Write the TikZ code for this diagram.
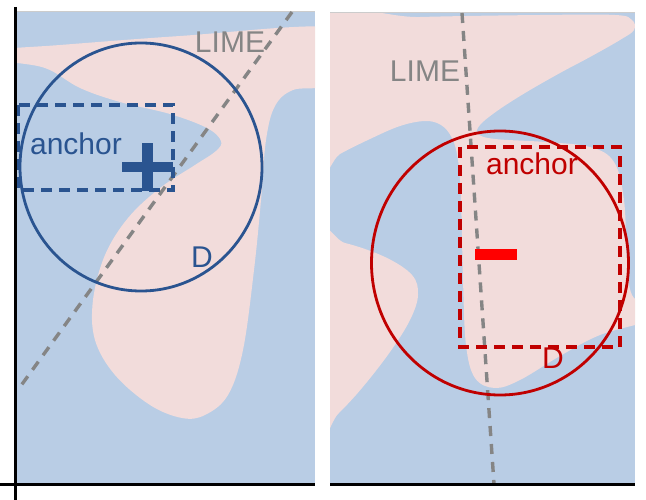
\documentclass[tikz,border=0pt]{standalone}
\usepackage{fontspec}
\setmainfont{Liberation Sans}
\usetikzlibrary{positioning}
\definecolor{bgblue}{HTML}{B9CDE5}
\definecolor{bgpink}{HTML}{F2DCDB}
\definecolor{darkblue}{HTML}{2A5490}
\definecolor{darkred}{HTML}{C00000}
\definecolor{limegray}{HTML}{858585}
\begin{document}
\begin{tikzpicture}[
  x=1pt, y=-1pt,
  axis/.style={line width=3pt, black},
  topline/.style={line width=1pt, black!20},
  region/.style={fill=bgpink, draw=none},
  lime/.style={limegray, line width=3.4pt, dash pattern=on 10pt off 8pt},
  ball/.style={line width=2.8pt},
  anchorbox/.style={line width=3.2pt, dash pattern=on 11pt off 7pt},
  lbl/.style={font=\fontsize{30}{30}\selectfont, anchor=base, inner sep=0pt},
]
\useasboundingbox (0,0) rectangle (646,500);

% left panel: positive example
\begin{scope}
  \clip (17,12) rectangle (315,484);
  \fill[bgblue] (17,12) rectangle (315,484);
  \fill[region] plot[smooth cycle, tension=0.6] coordinates {
    (0,50) (60,45) (180,36) (330,27) (345,55) (325,85) (293,90) (275,106)
    (266,140) (261,200) (254,270) (243,350) (228,395) (205,415) (182,418)
    (150,405) (115,375) (95,340) (93,300) (105,255) (128,218) (160,188)
    (195,165) (216,151) (221,141) (207,128) (170,114) (120,102) (80,88)
    (45,68) (0,60)};
\end{scope}
\draw[topline] (17,12) -- (315,12);
\coordinate (limeLtop) at (292,12);
\coordinate (limeLbot) at (20,387);
\draw[lime] (limeLtop) -- (limeLbot);
\draw[ball, darkblue] (141,167) ellipse (121 and 124);
\draw[anchorbox, darkblue] (18,105) rectangle (173,190);
\fill[darkblue] (122,162) rectangle (173,172);
\fill[darkblue] (142,143) rectangle (153,191);
\node[lbl, darkblue] (anchorL) at (76,155) {anchor};
\node[lbl, darkblue] (dL) at (202,267) {D};
\node[lbl, limegray] (limeL) at (230,53) {LIME};

% right panel: negative example
\begin{scope}
  \clip (330,13) rectangle (635,484);
  \fill[bgblue] (330,13) rectangle (635,484);
  \fill[region] plot[smooth cycle, tension=0.6] coordinates {
    (320,21) (420,17) (540,15) (615,15) (632,20) (634,30) (620,40)
    (590,57) (560,73) (525,93) (497,111) (480,125) (478,134) (495,139)
    (545,142) (590,147) (614,162) (624,200) (627,260) (632,295) (650,308)
    (650,320) (600,335) (560,356) (520,380) (495,388) (475,378) (466,345)
    (463,280) (461,200) (458,160) (452,138) (441,125) (425,121) (400,126)
    (370,139) (340,154) (320,167)};
  \fill[region] plot[smooth cycle, tension=0.6] coordinates {
    (315,240) (345,243) (385,257) (412,275) (418,295) (410,320) (390,352)
    (362,388) (338,414) (315,435)};
\end{scope}
\draw[topline] (330,13) -- (635,13);
\coordinate (limeRtop) at (462,13);
\coordinate (limeRbot) at (494,484);
\draw[lime] (limeRtop) -- (limeRbot);
\draw[ball, darkred] (500,263) ellipse (128.5 and 132);
\draw[anchorbox, darkred] (460,147) rectangle (620,347);
\fill[red] (475,249) rectangle (517,260);
\node[lbl, darkred] (anchorR) at (532,175) {anchor};
\node[lbl, darkred] (dR) at (553,368) {D};
\node[lbl, limegray] (limeR) at (425,82) {LIME};

% axes
\draw[axis] (15,7) -- (15,500);
\draw[axis] (0,484) -- (315,484);
\draw[axis] (330,484) -- (635,484);
\end{tikzpicture}
\end{document}
